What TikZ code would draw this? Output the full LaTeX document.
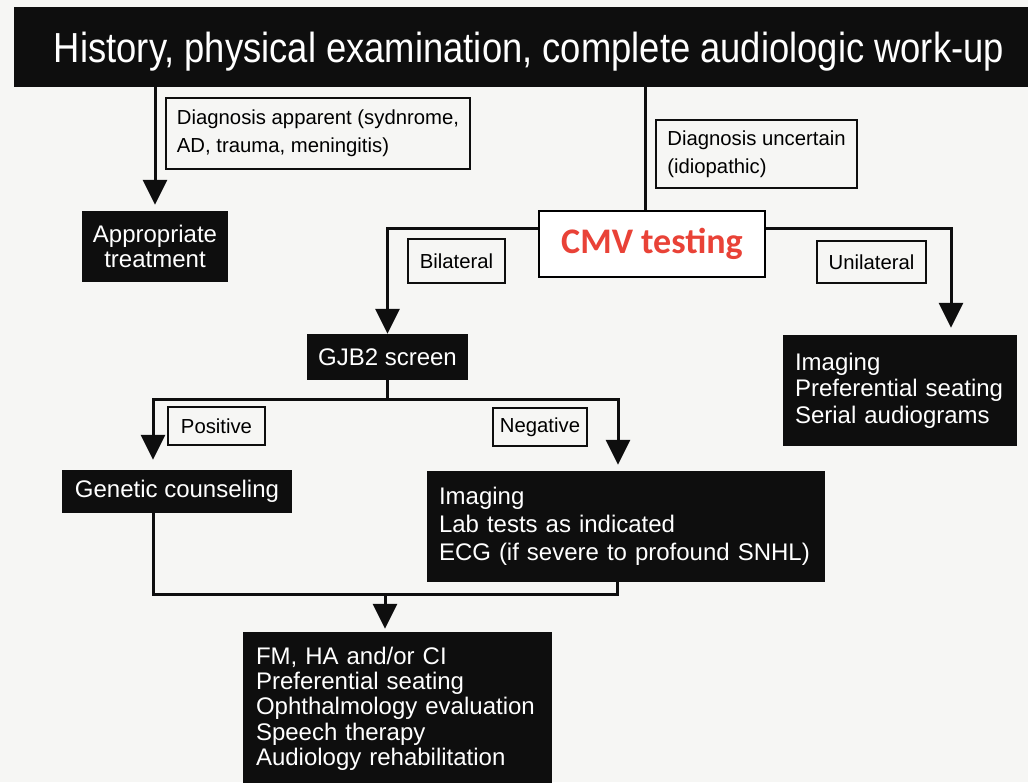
\documentclass[tikz,border=0pt]{standalone}
\usepackage{fontspec}
\setmainfont{Liberation Sans}
\newfontfamily\cmvfont{Carlito}
\usetikzlibrary{arrows.meta,backgrounds}
\definecolor{paper}{RGB}{246,246,244}
\definecolor{ink}{RGB}{14,14,14}
\definecolor{cmvred}{RGB}{233,66,55}

\begin{document}
\begin{tikzpicture}[x=1pt,y=-1pt,
  darkbox/.style={fill=ink, text=white, inner sep=0pt,
    font=\fontsize{24}{26.5}\selectfont},
  tagbox/.style={draw=ink, line width=1.5pt, fill=paper, inner sep=0pt,
    font=\fontsize{20.3}{28.3}\selectfont},
  flow/.style={draw=ink, line width=3pt},
  flowarrow/.style={flow, -{Triangle[width=24pt,length=25pt]}},
]
\useasboundingbox (0,0) rectangle (1028,782);

% header bar
\node[fill=ink, text=white, inner sep=0pt, minimum width=1030pt, minimum height=80pt,
      text height=31pt, text depth=1pt, font=\fontsize{42}{46}\selectfont] (title) at (529,47)
  {\resizebox{950pt}{\height}{History, physical examination, complete audiologic work-up}};

% first branching
\node[tagbox, minimum width=304pt, minimum height=71pt, align=left] (dapp) at (318,133.5)
  {Diagnosis apparent (sydnrome,\\AD, trauma, meningitis)};
\node[darkbox, minimum width=146pt, minimum height=71pt, align=center,
      font=\fontsize{24}{25}\selectfont] (appr) at (155,246.5) {Appropriate\\treatment};
\node[tagbox, minimum width=201pt, minimum height=68pt, align=left,
      font=\fontsize{20.3}{28}\selectfont] (dunc) at (756.5,154)
  {Diagnosis uncertain\\(idiopathic)};
\node[draw=black, line width=2pt, fill=white, minimum width=226pt, minimum height=66pt,
      inner sep=0pt, text=cmvred, font={\cmvfont\bfseries\fontsize{36}{40}\selectfont}]
  (cmv) at (652,244) {CMV testing};
\node[tagbox, minimum width=97pt, minimum height=44pt] (bil) at (456.5,261) {Bilateral};
\node[tagbox, minimum width=109pt, minimum height=42pt] (uni) at (871.5,262) {Unilateral};

% second level
\node[darkbox, minimum width=161pt, minimum height=46pt] (gjb) at (387.5,357) {GJB2 screen};
\node[darkbox, minimum width=234pt, minimum height=111pt, align=left, text width=210pt]
  (rimg) at (900,390.5) {Imaging\\Preferential seating\\Serial audiograms};
\node[tagbox, minimum width=97pt, minimum height=38pt] (pos) at (216.5,426) {Positive};
\node[tagbox, minimum width=94pt, minimum height=38pt] (neg) at (540,427) {Negative};
\node[darkbox, minimum width=230pt, minimum height=43pt] (gen) at (177,491.5) {Genetic counseling};
\node[darkbox, minimum width=398pt, minimum height=111pt, align=left, text width=374pt,
      font=\fontsize{24}{28}\selectfont]
  (limg) at (626,526.5) {Imaging\\Lab tests as indicated\\ECG (if severe to profound SNHL)};
\node[darkbox, minimum width=309pt, minimum height=153pt, align=left, text width=283pt,
      font=\fontsize{24}{25.3}\selectfont]
  (final) at (397.5,708.5)
  {FM, HA and/or CI\\Preferential seating\\Ophthalmology evaluation\\Speech therapy\\Audiology rehabilitation};

% junction points of the connectors
\coordinate (split) at (645,228);
\coordinate (uniturn) at (951,228);
\coordinate (gsplit) at (387.5,399);
\coordinate (posturn) at (153,399);
\coordinate (negturn) at (618,399);
\coordinate (mleft) at (153,594);
\coordinate (mright) at (617,594);
\coordinate (mdrop) at (385,594);

\begin{scope}[on background layer]
  \fill[paper] (0,0) rectangle (1028,782);
  \draw[flowarrow, shorten >=6pt] (appr.north |- title.south) -- (appr.north);
  \draw[flow] (title.south -| split) -- (split);
  \draw[flowarrow] (split) -| (gjb.north);
  \draw[flowarrow, shorten >=7pt] (split) -- (uniturn) -- (uniturn |- rimg.north);
  \draw[flow] (gjb.south) -- (gsplit);
  \draw[flowarrow, shorten >=10pt] (gsplit) -- (posturn) -- (posturn |- gen.north);
  \draw[flowarrow, shorten >=6pt] (gsplit) -- (negturn) -- (negturn |- limg.north);
  \draw[flow] (gen.south -| mleft) -- (mleft) -- (mright) -- (mright |- limg.south);
  \draw[flowarrow, shorten >=3pt] (mdrop) -- (mdrop |- final.north);
\end{scope}
\end{tikzpicture}
\end{document}
